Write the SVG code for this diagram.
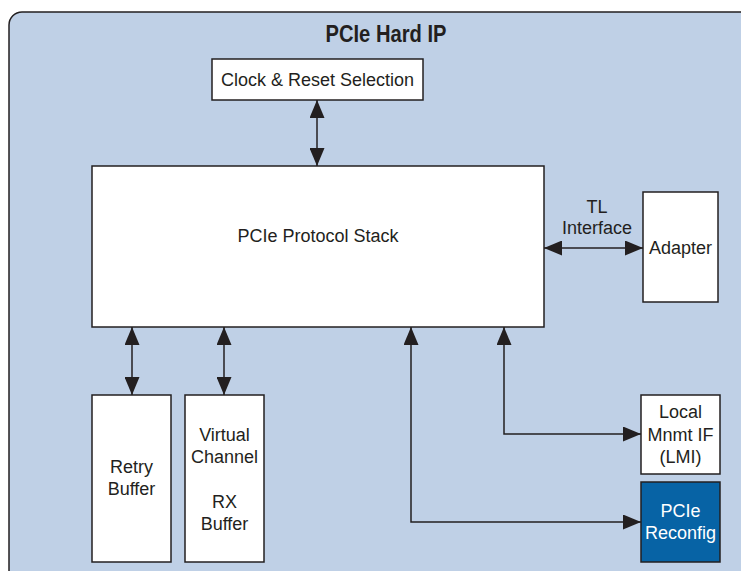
<svg xmlns="http://www.w3.org/2000/svg" width="741" height="571" viewBox="0 0 741 571">
<defs>
<marker id="ah" markerUnits="userSpaceOnUse" markerWidth="18" markerHeight="15" refX="18" refY="7.5" orient="auto-start-reverse" viewBox="0 0 18 15">
<path d="M0,0 L18,7.5 L0,15 z" fill="#231f20"/>
</marker>
<style>
.box{fill:#fff;stroke:#231f20;stroke-width:1.5}
.t{font-family:"Liberation Sans",Arial,sans-serif;font-size:18px;fill:#231f20;text-anchor:middle}
.w{fill:#fff}
.c{fill:none;stroke:#231f20;stroke-width:1.5;marker-start:url(#ah);marker-end:url(#ah)}
</style>
</defs>
<rect width="741" height="571" fill="#fff"/>
<g id="frame">
<rect x="9" y="12" width="770" height="600" rx="13" ry="13" fill="#bfd0e6" stroke="#231f20" stroke-width="1.5"/>
<text x="386" y="42" textLength="121" lengthAdjust="spacingAndGlyphs" style="font-family:'Liberation Sans',Arial,sans-serif;font-size:24px;font-weight:bold;fill:#231f20;text-anchor:middle">PCIe Hard IP</text>
</g>
<g id="connectors">
<line class="c" x1="317" y1="100" x2="317" y2="166"/>
<line class="c" x1="544" y1="248" x2="643" y2="248"/>
<line class="c" x1="132" y1="327" x2="132" y2="395"/>
<line class="c" x1="224" y1="327" x2="224" y2="395"/>
<path class="c" d="M504,327 V434 H641"/>
<path class="c" d="M411,327 V522 H641"/>
</g>
<g id="tl-label">
<text class="t" x="597" y="213">TL</text>
<text class="t" x="597" y="234">Interface</text>
</g>
<g id="clock">
<rect class="box" x="212" y="59" width="211" height="41"/>
<text class="t" x="317.5" y="86">Clock &amp; Reset Selection</text>
</g>
<g id="stack">
<rect class="box" x="92" y="166" width="452" height="161"/>
<text class="t" x="318" y="242">PCIe Protocol Stack</text>
</g>
<g id="adapter">
<rect class="box" x="643" y="192" width="75" height="110"/>
<text class="t" x="680.5" y="254">Adapter</text>
</g>
<g id="retry">
<rect class="box" x="92" y="395" width="79" height="167"/>
<text class="t" x="131.5" y="473">Retry</text>
<text class="t" x="131.5" y="495">Buffer</text>
</g>
<g id="vc">
<rect class="box" x="185" y="395" width="79" height="167"/>
<text class="t" x="224.5" y="441">Virtual</text>
<text class="t" x="224.5" y="463">Channel</text>
<text class="t" x="224.5" y="508">RX</text>
<text class="t" x="224.5" y="530">Buffer</text>
</g>
<g id="lmi">
<rect class="box" x="641" y="395" width="79" height="79"/>
<text class="t" x="680.5" y="418">Local</text>
<text class="t" x="680.5" y="441">Mnmt IF</text>
<text class="t" x="680.5" y="463">(LMI)</text>
</g>
<g id="reconfig">
<rect x="641" y="482" width="79" height="80" fill="#0763a5" stroke="#231f20" stroke-width="1.5"/>
<text class="t w" x="680.5" y="517">PCIe</text>
<text class="t w" x="680.5" y="539">Reconfig</text>
</g>
</svg>
